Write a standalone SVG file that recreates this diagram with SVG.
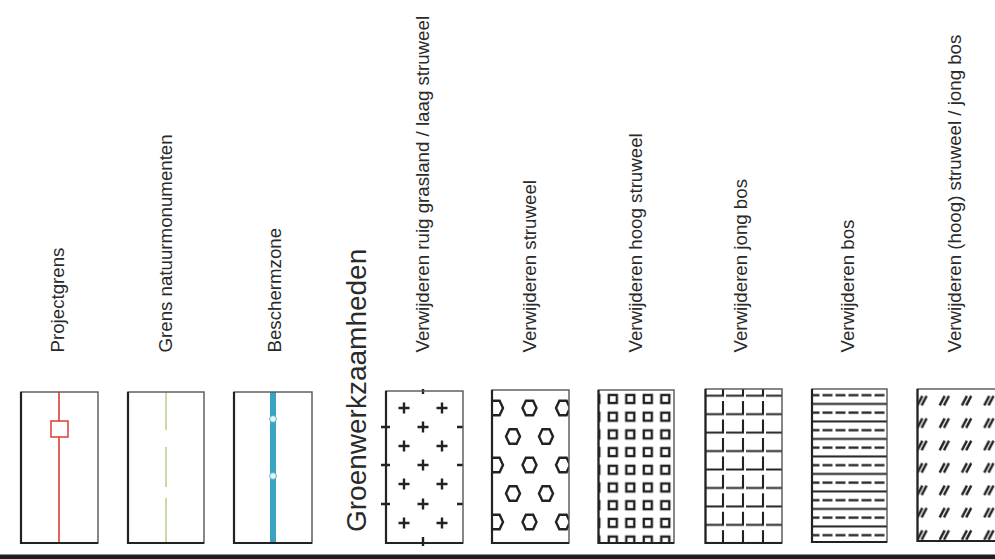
<svg xmlns="http://www.w3.org/2000/svg" xmlns:xlink="http://www.w3.org/1999/xlink" width="995" height="559" viewBox="0 0 995 559">
<style>
.lbl{font-family:"Liberation Sans",Arial,sans-serif;font-size:18.7px;fill:#2a2a2a}
.title{font-size:28px}
.frame{fill:none;stroke:#555;stroke-width:1.4}
.edge{fill:none;stroke:#222;stroke-width:2.2}
.ink{fill:none;stroke:#222;stroke-width:2.4}
</style>
<defs>
<path id="plus" d="M-5.5,0H5.5M0,-5.5V5.5" class="ink"/>
<path id="hex" d="M-7,0L-3.6,-7.2L3.6,-7.2L7,0L3.6,7.2L-3.6,7.2Z" class="ink"/>
<pattern id="pSq" patternUnits="userSpaceOnUse" x="604.05" y="390.15" width="17.5" height="17.7">
<rect x="4.75" y="4.85" width="8" height="8" fill="none" stroke="#222" stroke-width="2.4"/>
</pattern>
<pattern id="pL" patternUnits="userSpaceOnUse" x="706" y="379.7" width="20" height="18.45">
<path d="M0,16H17V3" fill="none" stroke="#222" stroke-width="2.1"/>
</pattern>
<pattern id="pBos" patternUnits="userSpaceOnUse" x="808" y="390.8" width="13" height="17.5">
<path d="M0,13.125H13" stroke="#222" stroke-width="2"/>
<path d="M1.5,4.375H11.5" stroke="#222" stroke-width="2.3"/>
</pattern>
<pattern id="pHatch" patternUnits="userSpaceOnUse" x="911.85" y="389.5" width="22.3" height="22.4">
<path d="M5.5,16L10.5,6.4M9.8,16L14.8,6.4" stroke="#222" stroke-width="2.4"/>
</pattern>
<clipPath id="cHex"><rect x="492" y="390" width="77" height="153"/></clipPath>
</defs>
<rect width="995" height="559" fill="#fff"/>
<g id="connectors"/>

<g id="projectgrens">
<line x1="59" y1="392" x2="59" y2="543" stroke="#e03a30" stroke-width="1.6"/>
<rect x="51" y="421" width="17" height="16" fill="#fff" stroke="#e03a30" stroke-width="1.5"/>
<rect class="frame" x="21" y="392" width="77" height="151"/>
<path class="edge" d="M21,392V543H98"/>
<text class="lbl" transform="translate(63.5,352.5) rotate(-90)">Projectgrens</text>
</g>

<g id="grens-natuurmonumenten">
<path d="M166,392V430M166,447V487M166,498V543" stroke="#b5d08a" stroke-width="1.5"/>
<rect class="frame" x="128" y="392" width="76" height="151"/>
<path class="edge" d="M128,392V543H204"/>
<text class="lbl" transform="translate(171.5,352.5) rotate(-90)">Grens natuurmonumenten</text>
</g>

<g id="beschermzone">
<line x1="273" y1="392" x2="273" y2="543" stroke="#3aa2c2" stroke-width="6"/>
<circle cx="273" cy="419" r="3.4" fill="#e6f6fa" stroke="#3aa2c2" stroke-width="0.8"/>
<circle cx="273" cy="476" r="3.4" fill="#e6f6fa" stroke="#3aa2c2" stroke-width="0.8"/>
<rect class="frame" x="234" y="392" width="78" height="151"/>
<path class="edge" d="M234,392V543H312"/>
<text class="lbl" transform="translate(280.5,352.5) rotate(-90)">Beschermzone</text>
</g>

<g id="groenwerkzaamheden">
<text class="lbl title" transform="translate(366,532) rotate(-90)">Groenwerkzaamheden</text>
</g>

<g id="ruig-grasland">
<use href="#plus" x="404" y="408"/><use href="#plus" x="442" y="408"/>
<use href="#plus" x="423" y="427"/>
<use href="#plus" x="404" y="446"/><use href="#plus" x="442" y="446"/>
<use href="#plus" x="423" y="465"/>
<use href="#plus" x="404" y="484"/><use href="#plus" x="442" y="484"/>
<use href="#plus" x="423" y="504"/>
<use href="#plus" x="404" y="523"/><use href="#plus" x="442" y="523"/>
<path class="ink" d="M381,427H390M381,465H390M381,504H390M457,427H463M457,465H463M457,504H463M423,389V394M423,537V546"/>
<rect class="frame" x="386" y="391" width="77" height="152"/>
<path class="edge" d="M386,391V543H463"/>
<text class="lbl" transform="translate(428.5,352.5) rotate(-90)">Verwijderen ruig grasland / laag struweel</text>
</g>

<g id="struweel">
<g clip-path="url(#cHex)">
<use href="#hex" x="496" y="408"/><use href="#hex" x="529.5" y="408"/><use href="#hex" x="563" y="408"/>
<use href="#hex" x="513" y="436.5"/><use href="#hex" x="546" y="436.5"/>
<use href="#hex" x="496" y="465"/><use href="#hex" x="529.5" y="465"/><use href="#hex" x="563" y="465"/>
<use href="#hex" x="513" y="493.5"/><use href="#hex" x="546" y="493.5"/>
<use href="#hex" x="496" y="522"/><use href="#hex" x="529.5" y="522"/><use href="#hex" x="563" y="522"/>
</g>
<rect class="frame" x="492" y="390" width="77" height="153"/>
<path class="edge" d="M492,390V543H569"/>
<text class="lbl" transform="translate(535.5,352.5) rotate(-90)">Verwijderen struweel</text>
</g>

<g id="hoog-struweel">
<rect x="598.5" y="390" width="75.5" height="153" fill="url(#pSq)"/>
<rect class="frame" x="598.5" y="390" width="75.5" height="153"/>
<path class="edge" d="M598.5,390V543H674"/>
<text class="lbl" transform="translate(641.5,352.5) rotate(-90)">Verwijderen hoog struweel</text>
</g>

<g id="jong-bos">
<rect x="705.5" y="389" width="76.5" height="154" fill="url(#pL)"/>
<rect class="frame" x="705.5" y="389" width="76.5" height="154"/>
<path class="edge" d="M705.5,389V543H782"/>
<text class="lbl" transform="translate(746.5,352.5) rotate(-90)">Verwijderen jong bos</text>
</g>

<g id="bos">
<rect x="812" y="389" width="75" height="153" fill="url(#pBos)"/>
<rect class="frame" x="812" y="389" width="75" height="153"/>
<path class="edge" d="M812,389V542H887"/>
<text class="lbl" transform="translate(853.5,352.5) rotate(-90)">Verwijderen bos</text>
</g>

<g id="hoog-struweel-jong-bos">
<rect x="917.5" y="389" width="90" height="152" fill="url(#pHatch)"/>
<rect class="frame" x="917.5" y="389" width="90" height="152"/>
<path class="edge" d="M917.5,389V541H1007"/>
<text class="lbl" transform="translate(961,352.5) rotate(-90)">Verwijderen (hoog) struweel / jong bos</text>
</g>

<rect x="0" y="554.5" width="995" height="4.5" fill="#1e1e1e"/>
</svg>
